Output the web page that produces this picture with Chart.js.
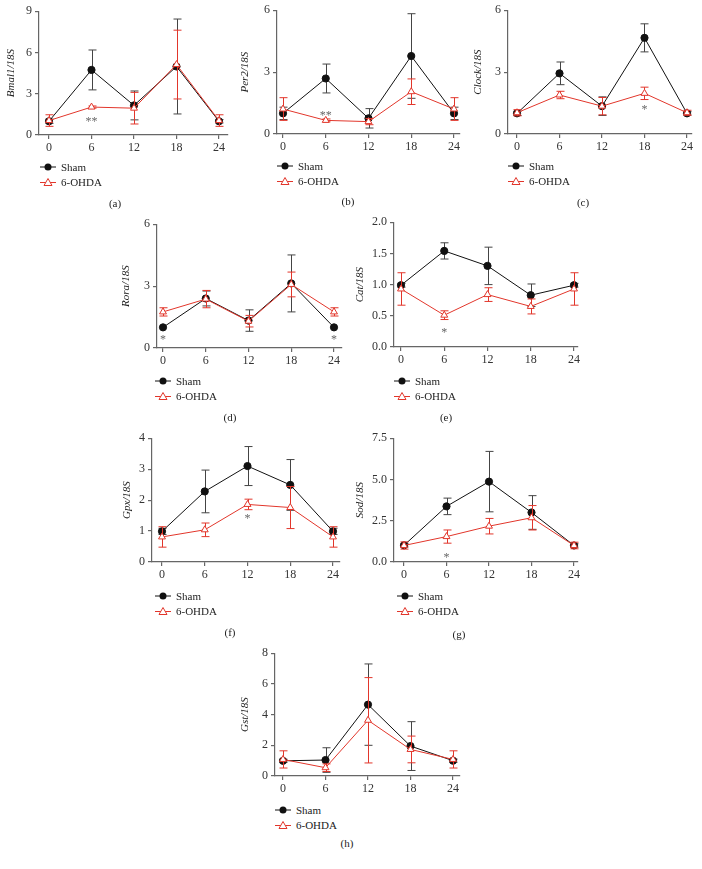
<!DOCTYPE html>
<html>
<head>
<meta charset="utf-8">
<script src="https://cdn.jsdelivr.net/npm/chart.js@4"></script>
<style>
  body { margin: 0; background: #fff; width: 702px; height: 869px; position: relative; overflow: hidden; font-family: "Liberation Serif", serif; }
  canvas { position: absolute; }
  .legend { position: absolute; font-size: 11px; color: #222; }
  .legend div { display: flex; align-items: center; height: 15.5px; white-space: nowrap; }
  .legend svg { margin-right: 5px; }
  .cap { position: absolute; font-size: 11px; color: #222; transform: translate(-50%, -50%); }
</style>
</head>
<body>
<script>
const hours = [0, 6, 12, 18, 24];

// means and error bars (relative to 18S)
const bmal1Sham = [1.0, 4.73, 2.15, 4.98, 1.0];
const bmal1ShamErr = [0.15, 1.45, 1.05, 3.45, 0.12];
const bmal1Ohda = [1.05, 2.03, 1.95, 5.12, 1.05];
const bmal1OhdaErr = [0.42, 0.08, 1.15, 2.5, 0.42];

const per2Sham = [1.0, 2.69, 0.76, 3.78, 1.0];
const per2ShamErr = [0.3, 0.7, 0.47, 2.05, 0.3];
const per2Ohda = [1.21, 0.66, 0.6, 2.05, 1.21];
const per2OhdaErr = [0.55, 0.07, 0.15, 0.62, 0.55];

const clockSham = [1.0, 2.94, 1.35, 4.66, 1.0];
const clockShamErr = [0.1, 0.55, 0.45, 0.68, 0.08];
const clockOhda = [1.03, 1.89, 1.35, 1.97, 1.03];
const clockOhdaErr = [0.15, 0.18, 0.42, 0.3, 0.12];

const roraSham = [1.0, 2.4, 1.33, 3.13, 1.0];
const roraShamErr = [0, 0.36, 0.52, 1.38, 0];
const roraOhda = [1.75, 2.37, 1.3, 3.08, 1.75];
const roraOhdaErr = [0.2, 0.42, 0.28, 0.6, 0.2];

const catSham = [0.99, 1.54, 1.3, 0.83, 0.99];
const catShamErr = [0.03, 0.13, 0.3, 0.18, 0.03];
const catOhda = [0.93, 0.51, 0.84, 0.65, 0.93];
const catOhdaErr = [0.26, 0.07, 0.11, 0.12, 0.26];

const gpxSham = [0.99, 2.28, 3.1, 2.49, 0.99];
const gpxShamErr = [0.1, 0.69, 0.63, 0.82, 0.1];
const gpxOhda = [0.81, 1.04, 1.86, 1.76, 0.81];
const gpxOhdaErr = [0.33, 0.22, 0.17, 0.68, 0.33];

const sodSham = [1.01, 3.37, 4.87, 3.0, 1.0];
const sodShamErr = [0.1, 0.5, 1.83, 1.02, 0.1];
const sodOhda = [1.0, 1.54, 2.17, 2.68, 1.0];
const sodOhdaErr = [0.22, 0.4, 0.47, 0.74, 0.2];

const gstSham = [0.99, 1.04, 4.65, 1.95, 1.0];
const gstShamErr = [0.1, 0.8, 2.65, 1.59, 0.1];
const gstOhda = [1.08, 0.54, 3.63, 1.73, 1.08];
const gstOhdaErr = [0.56, 0.25, 2.78, 0.87, 0.56];

// significance marks, in data units
const bmal1Stars = [{ x: 6, y: 1.15, t: "**" }];
const per2Stars = [{ x: 6, y: 1.03, t: "**" }];
const clockStars = [{ x: 18, y: 1.29, t: "*" }];
const roraStars = [{ x: 0, y: 0.52, t: "*" }, { x: 24, y: 0.52, t: "*" }];
const catStars = [{ x: 6, y: 0.27, t: "*" }];
const gpxStars = [{ x: 12, y: 1.5, t: "*" }];
const sodStars = [{ x: 6, y: 0.45, t: "*" }];
const gstStars = [];

const panels = [
  { tag: "(a)", title: "Bmal1/18S", sham: bmal1Sham, shamErr: bmal1ShamErr, ohda: bmal1Ohda, ohdaErr: bmal1OhdaErr, stars: bmal1Stars, yMax: 9, yStep: 3, dec: 0 },
  { tag: "(b)", title: "Per2/18S", sham: per2Sham, shamErr: per2ShamErr, ohda: per2Ohda, ohdaErr: per2OhdaErr, stars: per2Stars, yMax: 6, yStep: 3, dec: 0 },
  { tag: "(c)", title: "Clock/18S", sham: clockSham, shamErr: clockShamErr, ohda: clockOhda, ohdaErr: clockOhdaErr, stars: clockStars, yMax: 6, yStep: 3, dec: 0 },
  { tag: "(d)", title: "Rora/18S", sham: roraSham, shamErr: roraShamErr, ohda: roraOhda, ohdaErr: roraOhdaErr, stars: roraStars, yMax: 6, yStep: 3, dec: 0 },
  { tag: "(e)", title: "Cat/18S", sham: catSham, shamErr: catShamErr, ohda: catOhda, ohdaErr: catOhdaErr, stars: catStars, yMax: 2, yStep: 0.5, dec: 1 },
  { tag: "(f)", title: "Gpx/18S", sham: gpxSham, shamErr: gpxShamErr, ohda: gpxOhda, ohdaErr: gpxOhdaErr, stars: gpxStars, yMax: 4, yStep: 1, dec: 0 },
  { tag: "(g)", title: "Sod/18S", sham: sodSham, shamErr: sodShamErr, ohda: sodOhda, ohdaErr: sodOhdaErr, stars: sodStars, yMax: 7.5, yStep: 2.5, dec: 1 },
  { tag: "(h)", title: "Gst/18S", sham: gstSham, shamErr: gstShamErr, ohda: gstOhda, ohdaErr: gstOhdaErr, stars: gstStars, yMax: 8, yStep: 2, dec: 0 }
];

// page layout in pixels: y-axis x, plot top/bottom/right, pixel of hour 0 and 24
const layouts = [
  { axisX: 39, top: 11, bottom: 135, right: 228, x0: 49, x24: 219, titleOff: 28, leg: [40, 167], cap: [115, 203] },
  { axisX: 277, top: 10, bottom: 134, right: 460, x0: 283, x24: 454, titleOff: 32, leg: [277, 166], cap: [348, 201] },
  { axisX: 508, top: 10, bottom: 134, right: 692, x0: 517, x24: 687, titleOff: 30, leg: [508, 166], cap: [583, 202] },
  { axisX: 157, top: 224, bottom: 348, right: 342, x0: 163, x24: 334, titleOff: 31, leg: [155, 381], cap: [230, 417] },
  { axisX: 394, top: 222, bottom: 347, right: 578, x0: 401, x24: 574, titleOff: 34, leg: [394, 381], cap: [446, 417] },
  { axisX: 152, top: 438, bottom: 562, right: 340, x0: 162, x24: 333, titleOff: 25, leg: [155, 596], cap: [230, 632] },
  { axisX: 394, top: 438, bottom: 562, right: 578, x0: 404, x24: 574, titleOff: 34, leg: [397, 596], cap: [459, 634] },
  { axisX: 275, top: 653, bottom: 776, right: 460, x0: 283, x24: 453, titleOff: 30, leg: [275, 810], cap: [347, 843] }
];

const RED = "#e2362b";
const AXIS = "#666";
const SERIF = "'Liberation Serif', serif";

const errorBars = {
  id: "errorBars",
  beforeDatasetDraw(chart, args) {
    const ds = chart.data.datasets[args.index];
    const ctx = chart.ctx;
    const xs = chart.scales.x, ys = chart.scales.y;
    ctx.save();
    ctx.strokeStyle = ds.errColor;
    ctx.lineWidth = 1;
    ds.data.forEach((p, i) => {
      const e = ds.err[i];
      if (!e) return;
      const x = Math.round(xs.getPixelForValue(p.x)) + 0.5;
      const yt = ys.getPixelForValue(p.y + e);
      const yb = ys.getPixelForValue(Math.max(p.y - e, 0));
      ctx.beginPath();
      ctx.moveTo(x, yt); ctx.lineTo(x, yb);
      ctx.moveTo(x - 4, yt); ctx.lineTo(x + 4, yt);
      ctx.moveTo(x - 4, yb); ctx.lineTo(x + 4, yb);
      ctx.stroke();
    });
    ctx.restore();
  }
};

const starMarks = {
  id: "starMarks",
  afterDatasetsDraw(chart) {
    const stars = chart.options.plugins.starMarks.items || [];
    const ctx = chart.ctx;
    ctx.save();
    ctx.fillStyle = "#666";
    ctx.font = "12px " + SERIF;
    ctx.textAlign = "center";
    ctx.textBaseline = "alphabetic";
    stars.forEach(s => {
      ctx.fillText(s.t, chart.scales.x.getPixelForValue(s.x), chart.scales.y.getPixelForValue(s.y) + 6);
    });
    ctx.restore();
  }
};

function addLegend(x, y) {
  const d = document.createElement("div");
  d.className = "legend";
  d.style.left = x + "px";
  d.style.top = (y - 8) + "px";
  d.innerHTML =
    '<div><svg width="16" height="10"><line x1="0" y1="5" x2="16" y2="5" stroke="#111"/><circle cx="8" cy="5" r="3.5" fill="#111"/></svg>Sham</div>' +
    '<div><svg width="16" height="10"><line x1="0" y1="5.5" x2="16" y2="5.5" stroke="' + RED + '"/><polygon points="8,1.5 12,8.5 4,8.5" fill="#fff" stroke="' + RED + '"/></svg>6-OHDA</div>';
  document.body.appendChild(d);
}

function addCaption(text, x, y) {
  const c = document.createElement("div");
  c.className = "cap";
  c.style.left = x + "px";
  c.style.top = y + "px";
  c.textContent = text;
  document.body.appendChild(c);
}

function makeChart(p, L) {
  const yW = 45, xH = 26, padT = 10, padR = 10;
  const w = L.right - L.axisX + yW + padR;
  const h = L.bottom - L.top + padT + xH;
  const cv = document.createElement("canvas");
  cv.width = w; cv.height = h;
  cv.style.width = w + "px"; cv.style.height = h + "px";
  cv.style.left = (L.axisX - yW) + "px";
  cv.style.top = (L.top - padT) + "px";
  document.body.appendChild(cv);

  const span = L.x24 - L.x0;
  const xMin = -(L.x0 - L.axisX) * 24 / span;
  const xMax = 24 + (L.right - L.x24) * 24 / span;

  new Chart(cv, {
    type: "line",
    data: {
      datasets: [
        {
          label: "Sham",
          data: hours.map((t, i) => ({ x: t, y: p.sham[i] })),
          err: p.shamErr, errColor: "#444",
          borderColor: "#111", backgroundColor: "#111", borderWidth: 1,
          pointStyle: "circle", pointRadius: 3.6, pointBorderWidth: 1,
          tension: 0, order: 1, clip: false
        },
        {
          label: "6-OHDA",
          data: hours.map((t, i) => ({ x: t, y: p.ohda[i] })),
          err: p.ohdaErr, errColor: RED,
          borderColor: RED, backgroundColor: "#fff", borderWidth: 1,
          pointStyle: "triangle", pointRadius: 4, pointBorderWidth: 1,
          tension: 0, order: 0, clip: false
        }
      ]
    },
    options: {
      responsive: false,
      animation: false,
      devicePixelRatio: 1,
      layout: { padding: { top: padT, right: padR, left: 0, bottom: 0 } },
      plugins: { legend: { display: false }, tooltip: { enabled: false }, starMarks: { items: p.stars } },
      scales: {
        x: {
          type: "linear", min: xMin, max: xMax,
          afterBuildTicks: s => { s.ticks = hours.map(v => ({ value: v })); },
          afterFit: s => { s.height = xH; },
          grid: { drawOnChartArea: false, drawTicks: true, tickLength: 4, color: AXIS, lineWidth: 1.2 },
          border: { color: AXIS, width: 1.2 },
          ticks: { color: "#333", font: { family: SERIF, size: 12 }, padding: 2, maxRotation: 0 }
        },
        y: {
          min: 0, max: p.yMax,
          afterFit: s => { s.width = yW; },
          grid: { drawOnChartArea: false, drawTicks: true, tickLength: 4, color: AXIS, lineWidth: 1.2 },
          border: { color: AXIS, width: 1.2 },
          ticks: { stepSize: p.yStep, color: "#333", font: { family: SERIF, size: 12 }, padding: 3, callback: v => v.toFixed(p.dec) },
          title: {
            display: true, text: p.title, color: "#222",
            font: { family: SERIF, size: 11, style: "italic" },
            padding: { top: yW - L.titleOff - 6.6, bottom: 0 }
          }
        }
      }
    },
    plugins: [errorBars, starMarks]
  });

  addLegend(L.leg[0], L.leg[1]);
  addCaption(p.tag, L.cap[0], L.cap[1]);
}

panels.forEach((p, i) => makeChart(p, layouts[i]));
</script>
</body>
</html>
